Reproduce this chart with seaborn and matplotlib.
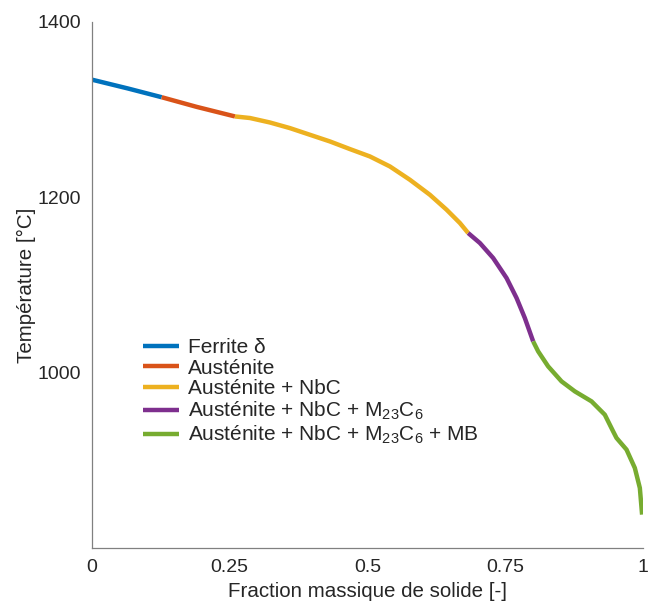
import numpy as np
import pandas as pd
import matplotlib
matplotlib.use("Agg")
import matplotlib.pyplot as plt
import seaborn as sns

# Courbe de solidification
ferrite_x = [0.0, 0.065, 0.1265]
ferrite_t = [1334, 1324, 1314]
aust_x = [0.1265, 0.19, 0.2595]
aust_t = [1314, 1303, 1292.1]
nbc_x = [0.2595, 0.2868, 0.3230, 0.3593, 0.3956, 0.4319, 0.4682, 0.5045,
         0.5408, 0.5771, 0.6134, 0.6437, 0.6679, 0.6829]
nbc_t = [1292.1, 1290.3, 1285.2, 1278.8, 1271.2, 1263.6, 1254.9, 1246.5,
         1235.1, 1219.9, 1202.8, 1185.8, 1170.6, 1159.2]
m23_x = [0.6829, 0.7042, 0.7283, 0.7526, 0.7708, 0.7858, 0.8009]
m23_t = [1159.2, 1147.8, 1130.7, 1107.9, 1085.1, 1062.3, 1035.7]
mb_x = [0.8009, 0.8100, 0.8281, 0.8524, 0.8766, 0.9069, 0.9310, 0.9461,
        0.9522, 0.9704, 0.9855, 0.9946, 0.9987]
mb_t = [1035.7, 1024.3, 1007.2, 990.1, 978.7, 967.3, 952.1, 933.1,
        925.6, 912.3, 891.4, 868.6, 838.2]

phases = ["Ferrite δ", "Austénite", "Austénite + NbC",
          "Austénite + NbC + M$_{23}$C$_6$",
          "Austénite + NbC + M$_{23}$C$_6$ + MB"]
couleurs = ["#0072BD", "#D95319", "#EDB120", "#7E2F8E", "#77AC30"]

segments = [(ferrite_x, ferrite_t), (aust_x, aust_t), (nbc_x, nbc_t),
            (m23_x, m23_t), (mb_x, mb_t)]

sns.set_style("white")
plt.rcParams['font.family'] = ['Liberation Sans', 'DejaVu Sans']
plt.rcParams['mathtext.fontset'] = 'custom'
plt.rcParams['mathtext.rm'] = 'Liberation Sans'
plt.rcParams['mathtext.it'] = 'Liberation Sans'
plt.rcParams['mathtext.default'] = 'regular'

fig = plt.figure(figsize=(6.48, 6.05), dpi=100)
ax = fig.add_axes([0.142, 0.094, 0.85, 0.87])

for (x, t), nom, c in zip(segments, phases, couleurs):
    df = pd.DataFrame({'x': x, 't': t})
    sns.lineplot(data=df, x='x', y='t', ax=ax, color=c, lw=3.2,
                 label=nom, sort=False, solid_capstyle='butt',
                 solid_joinstyle='round')

ax.set_xlim(0, 1)
ax.set_ylim(800, 1400)
ax.set_xticks([0, 0.25, 0.5, 0.75, 1])
ax.set_xticklabels(['0', '0.25', '0.5', '0.75', '1'])
ax.set_yticks([1000, 1200, 1400])
ax.set_xlabel('Fraction massique de solide [-]', fontsize=14.8, color='#262626', labelpad=4)
ax.set_ylabel('Température [°C]', fontsize=14.8, color='#262626', labelpad=1)
ax.tick_params(direction='in', length=5, width=0.8, color='#808080',
               labelsize=14, labelcolor='#262626', pad=8)
for s in ['top', 'right']:
    ax.spines[s].set_visible(False)
for s in ['left', 'bottom']:
    ax.spines[s].set_color('#808080')
    ax.spines[s].set_linewidth(0.9)

leg = ax.legend(loc='upper left', bbox_to_anchor=(0.078, 0.415), frameon=False,
                fontsize=15, handlelength=1.7, handletextpad=0.45,
                labelspacing=0.08, borderaxespad=0)
for h in leg.get_lines():
    h.set_linewidth(3.2)

fig.savefig('out.png', dpi=100)
